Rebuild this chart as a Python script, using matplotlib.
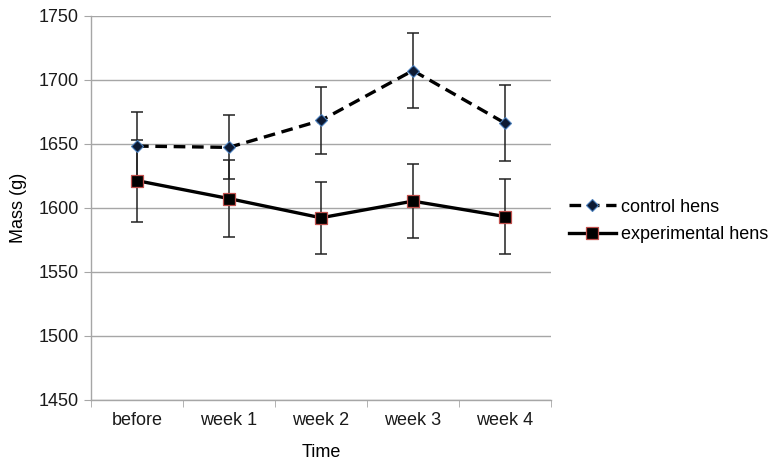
import numpy as np
import matplotlib.pyplot as plt
from matplotlib.ticker import FixedLocator

plt.rcParams["font.family"] = ["Liberation Sans", "DejaVu Sans"]

categories = ["before", "week 1", "week 2", "week 3", "week 4"]
control = [1648, 1647, 1668, 1707, 1666]
control_err = [27, 25, 26, 29, 30]
experimental = [1621, 1607, 1592, 1605, 1593]
experimental_err = [32, 30, 28, 29, 29]

GRID = "#a6a6a6"
FS = 13

fig = plt.figure(figsize=(7.78, 4.63), dpi=100)
ax = fig.add_axes([0.117, 0.137, 0.591, 0.8295])

x = np.arange(len(categories))

ax.errorbar(x, control, yerr=control_err, fmt="none", ecolor="#222222",
            elinewidth=1.1, capsize=4, capthick=1.1, zorder=3)
ax.errorbar(x, experimental, yerr=experimental_err, fmt="none", ecolor="#222222",
            elinewidth=1.1, capsize=4, capthick=1.1, zorder=3)

ax.plot(x, control, color="black", linestyle=(0, (3.5, 2)), linewidth=2.4,
        marker="D", markersize=6, markerfacecolor="#0d1a33",
        markeredgecolor="#4a7ebb", markeredgewidth=0.8, zorder=4,
        label="control hens")
ax.plot(x, experimental, color="black", linestyle="-", linewidth=2.4,
        marker="s", markersize=9, markerfacecolor="black",
        markeredgecolor="#c0504d", markeredgewidth=0.9, zorder=4,
        label="experimental hens")

ax.set_ylim(1450, 1750)
ax.set_yticks(np.arange(1450, 1751, 50))
ax.set_xlim(-0.5, len(categories) - 0.5)
ax.set_xticks(x)
ax.set_xticklabels(categories)
ax.xaxis.set_minor_locator(FixedLocator(np.arange(-0.5, len(categories), 1.0)))

ax.grid(axis="y", color=GRID, linewidth=1.0, zorder=0)
ax.set_axisbelow(True)
for side in ["top", "right"]:
    ax.spines[side].set_visible(False)
for side in ["left", "bottom"]:
    ax.spines[side].set_color(GRID)
    ax.spines[side].set_linewidth(1.0)

ax.tick_params(axis="y", which="major", length=5, color=GRID, labelsize=FS,
               pad=4, labelcolor="#1a1a1a")
ax.tick_params(axis="x", which="major", length=0, labelsize=FS, pad=9,
               labelcolor="#1a1a1a")
ax.tick_params(axis="x", which="minor", length=5, color=GRID)

ax.set_xlabel("Time", fontsize=FS, labelpad=11)
ax.set_ylabel("Mass (g)", fontsize=FS, labelpad=8)

ax.legend(loc="center left", bbox_to_anchor=(1.0, 0.465), frameon=False,
          fontsize=FS, handlelength=2.6, handletextpad=0.3, labelspacing=0.6,
          borderaxespad=0.6)

fig.savefig("out.png", dpi=100)
